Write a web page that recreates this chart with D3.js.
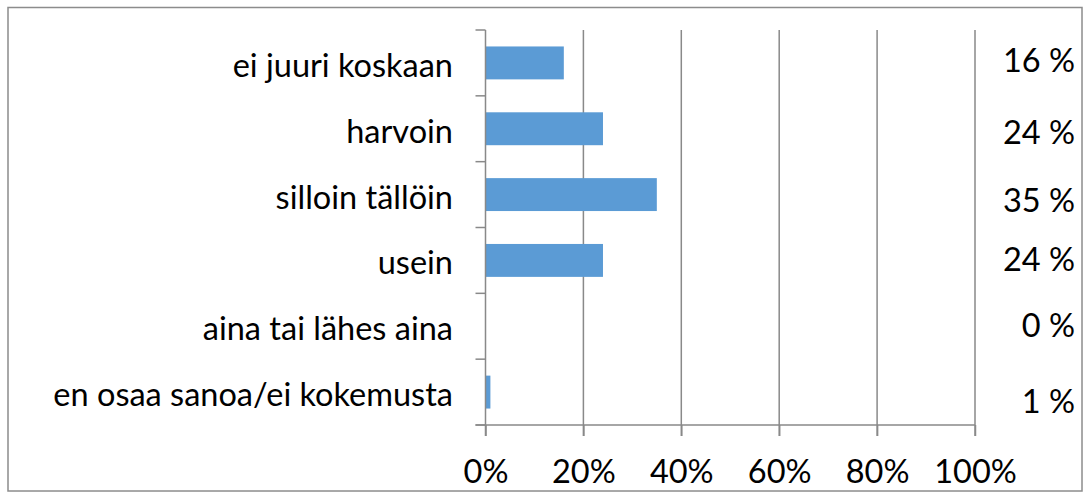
<!DOCTYPE html>
<html>
<head>
<meta charset="utf-8">
<script src="https://cdn.jsdelivr.net/npm/d3@7"></script>
<style>
  html, body { margin: 0; padding: 0; background: #fff; }
  svg { display: block; }
  text { font-family: Lato, "Open Sans", sans-serif; fill: #000; }
</style>
</head>
<body>
<svg id="chart" width="1088" height="492"></svg>
<script>
// ---- data ----
const categories = ["ei juuri koskaan", "harvoin", "silloin tällöin", "usein", "aina tai lähes aina", "en osaa sanoa/ei kokemusta"];
const values = [16, 24, 35, 24, 0, 1];
const xTicks = [0, 20, 40, 60, 80, 100];

// ---- layout ----
const W = 1088, H = 492;
const plot = { left: 485.5, right: 975, top: 30, bottom: 425 };
const fontSize = 32.5;
const labelNudge = [-1, 5, 6.5, 0, 0, 10]; // vertical offsets of the right-hand value labels

const svg = d3.select("#chart");

const x = d3.scaleLinear().domain([0, 100]).range([plot.left, plot.right]);
const y = d3.scaleBand().domain(categories).range([plot.top, plot.bottom]).paddingInner(0.5).paddingOuter(0.25);
const yEdge = d3.scaleLinear().domain([0, categories.length]).range([plot.top, plot.bottom]);

const gridColor = "#898989";

// outer border
svg.append("rect")
  .attr("x", 8).attr("y", 7.5).attr("width", 1074).attr("height", 483.5)
  .attr("fill", "none").attr("stroke", "#8c8c8c").attr("stroke-width", 1.5);

// vertical gridlines (extend down as tick marks)
svg.append("g").selectAll("line").data(xTicks.filter(d => d > 0)).join("line")
  .attr("x1", d => x(d)).attr("x2", d => x(d))
  .attr("y1", plot.top).attr("y2", plot.bottom + 11)
  .attr("stroke", gridColor).attr("stroke-width", 1.5);

// bars
svg.append("g").selectAll("rect").data(values).join("rect")
  .attr("x", x(0))
  .attr("y", (d, i) => y(categories[i]))
  .attr("width", d => x(d) - x(0))
  .attr("height", y.bandwidth())
  .attr("fill", "#5b9bd5");

// x axis
const xAxis = d3.axisBottom(x).tickValues(xTicks).tickSize(11).tickFormat(d => d + "%");
const gx = svg.append("g").attr("transform", `translate(0,${plot.bottom})`).call(xAxis);
gx.select(".domain").remove();
gx.selectAll(".tick line").attr("stroke", gridColor).attr("stroke-width", 1.5);
gx.selectAll(".tick text").attr("font-size", fontSize).attr("y", 35).attr("dy", "0.71em")
  .style("font-family", "Lato, sans-serif");
svg.append("line")
  .attr("x1", plot.left - 10).attr("x2", plot.right)
  .attr("y1", plot.bottom).attr("y2", plot.bottom)
  .attr("stroke", gridColor).attr("stroke-width", 1.5);

// y axis line + band edge ticks
svg.append("line")
  .attr("x1", plot.left).attr("x2", plot.left)
  .attr("y1", plot.top).attr("y2", plot.bottom + 11)
  .attr("stroke", gridColor).attr("stroke-width", 1.5);
svg.append("g").selectAll("line").data(d3.range(categories.length + 1)).join("line")
  .attr("x1", plot.left - 10).attr("x2", plot.left)
  .attr("y1", d => yEdge(d)).attr("y2", d => yEdge(d))
  .attr("stroke", gridColor).attr("stroke-width", 1.5);

// category labels
svg.append("g").selectAll("text").data(categories).join("text")
  .attr("x", 453)
  .attr("y", d => y(d) + y.bandwidth() / 2 + 14)
  .attr("text-anchor", "end")
  .attr("font-size", fontSize)
  .text(d => d);

// value labels on the right
svg.append("g").selectAll("text").data(values).join("text")
  .attr("x", 1075)
  .attr("y", (d, i) => y(categories[i]) + y.bandwidth() / 2 + 10.5 + labelNudge[i])
  .attr("text-anchor", "end")
  .attr("font-size", fontSize)
  .text(d => d + " %");
</script>
</body>
</html>
